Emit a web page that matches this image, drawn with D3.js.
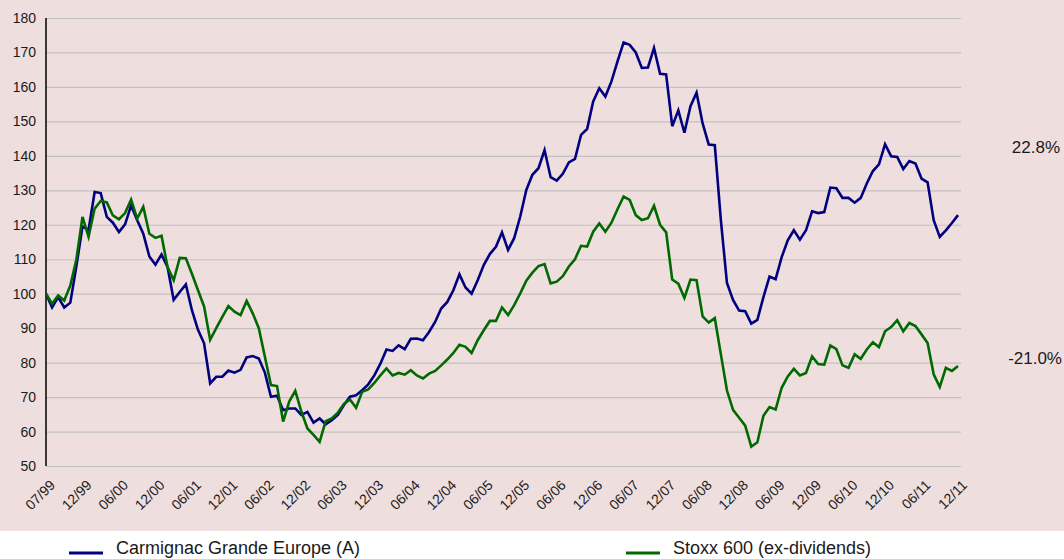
<!DOCTYPE html>
<html>
<head>
<meta charset="utf-8">
<script src="https://cdn.jsdelivr.net/npm/d3@7"></script>
<style>
  body { margin: 0; background: #ffffff; }
  svg { display: block; font-family: "Liberation Sans", Arial, sans-serif; }
</style>
</head>
<body>
<div id="canvas"></div>
<script>
var WIDTH = 1064, HEIGHT = 559;

// tick labels, one every 6 points
var tickLabels = ['07/99', '12/99', '06/00', '12/00', '06/01', '12/01', '06/02', '12/02', '06/03',
    '12/03', '06/04', '12/04', '06/05', '12/05', '06/06', '12/06', '06/07', '12/07', '06/08',
    '12/08', '06/09', '12/09', '06/10', '12/10', '06/11', '12/11'];

var seriesNames = ['Carmignac Grande Europe (A)', 'Stoxx 600 (ex-dividends)'];
var endLabels = ['22.8%', '-21.0%'];

// monthly values, base 100
var carmignac = [
    100, 96, 99, 96, 97.4, 108, 119.5, 118.5, 129.5, 129.2,
    122.3, 120.6, 117.9, 120.1, 125.6, 121.3, 117.4, 110.8, 108.4, 111.4,
    107.7, 98.2, 100.5, 102.7, 95.2, 89.5, 85.6, 74, 75.9, 75.9,
    77.7, 77.1, 77.9, 81.5, 81.9, 81.2, 77.1, 70.1, 70.4, 66.2,
    66.7, 66.7, 64.8, 65.7, 62.6, 63.8, 62.1, 63.3, 64.8, 67.7,
    70.1, 70.5, 72, 73.7, 76.3, 79.7, 83.8, 83.4, 85, 83.9,
    86.9, 87, 86.5, 88.9, 91.8, 95.7, 97.6, 101, 105.6, 101.8,
    100, 103.9, 108.3, 111.5, 113.6, 117.8, 112.7, 116.1, 122.4, 130.1,
    134.5, 136.4, 141.7, 133.8, 132.8, 134.8, 138.1, 139.1, 146.1, 147.8,
    155.8, 159.6, 157.2, 161.6, 167.4, 172.9, 172.2, 170, 165.5, 165.6,
    171.3, 163.8, 163.6, 148.6, 153.2, 146.7, 154.4, 158.3, 149.4, 143.3,
    143.1, 121.3, 103.1, 98.2, 95.1, 94.9, 91.3, 92.4, 99, 105,
    104.2, 110.6, 115.5, 118.4, 115.7, 118.4, 123.9, 123.4, 123.7, 130.8,
    130.6, 127.8, 127.8, 126.4, 127.8, 132, 135.6, 137.5, 143.4, 139.9,
    139.7, 136.2, 138.5, 137.8, 133.4, 132.3, 121.3, 116.5, 118.4, 120.5,
    122.8
];

var stoxx = [
    100, 97.1, 99.5, 98, 102.4, 110, 122.3, 116.5, 124.7, 126.9,
    126.5, 122.7, 121.6, 123.4, 127.3, 121.8, 125.2, 117.4, 116.2, 116.8,
    107.7, 103.9, 110.4, 110.3, 105.8, 101, 96.3, 86.6, 90, 93.3,
    96.4, 94.8, 93.8, 97.9, 94.3, 90, 81.7, 73.5, 73.2, 62.9,
    68.7, 71.8, 65.8, 60.9, 59, 57, 63, 63.8, 65.5, 68,
    69.3, 66.9, 71.5, 72.2, 74.1, 76.3, 78.3, 76.3, 77, 76.5,
    77.8, 76.3, 75.4, 76.8, 77.6, 79.2, 80.9, 82.8, 85.2, 84.6,
    82.8, 86.5, 89.4, 92.1, 92.1, 96, 93.8, 96.7, 100.1, 103.8,
    106.1, 108, 108.6, 103, 103.5, 105.1, 107.9, 110, 113.9, 113.7,
    118, 120.4, 118, 120.6, 124.5, 128.2, 127.2, 122.8, 121.4, 121.9,
    125.5, 120, 117.8, 104.1, 102.9, 98.8, 104.1, 103.9, 93.4, 91.6,
    92.9, 82.4, 71.9, 66.3, 64, 61.7, 55.6, 56.9, 64.6, 67.1,
    66.4, 72.7, 76, 78.2, 76.3, 77, 81.8, 79.6, 79.4, 85,
    83.9, 79.2, 78.5, 82.4, 81.1, 83.8, 85.9, 84.5, 89.1, 90.3,
    92.3, 89.1, 91.5, 90.6, 88.2, 85.7, 76.6, 72.9, 78.5, 77.6,
    79
];

var COLORS = ['#000080', '#006a00'];
var LEFT = 46, RIGHT = 958, TOP = 18, BOTTOM = 466;

var svg = d3.select('#canvas').append('svg')
    .attr('width', WIDTH)
    .attr('height', HEIGHT);

// pink plot background
svg.append('rect')
    .attr('x', 0).attr('y', 0)
    .attr('width', WIDTH).attr('height', 531)
    .attr('fill', '#efdede');

var x = d3.scaleLinear().domain([0, carmignac.length - 1]).range([LEFT, RIGHT]);
var y = d3.scaleLinear().domain([50, 180]).range([BOTTOM, TOP]);

// horizontal grid + y labels
var yAxis = d3.axisLeft(y).tickValues(d3.range(50, 181, 10))
    .tickSize(-(RIGHT + 3 - LEFT)).tickPadding(10);
var gy = svg.append('g').attr('transform', 'translate(' + LEFT + ',0)').call(yAxis);
gy.select('.domain').remove();
gy.selectAll('.tick line').attr('stroke', '#c4c0c0').attr('stroke-width', 1.2);
gy.selectAll('.tick text')
    .attr('fill', '#1a1a1a')
    .style('font-size', '14px')
    .attr('font-family', '"Liberation Sans", Arial, sans-serif');

// vertical axis line
svg.append('line')
    .attr('x1', LEFT).attr('x2', LEFT)
    .attr('y1', TOP).attr('y2', BOTTOM)
    .attr('stroke', '#000').attr('stroke-width', 1.5);

// x labels, rotated
var tickIdx = d3.range(0, carmignac.length, 6);
svg.append('g').selectAll('text')
    .data(tickIdx)
    .enter()
    .append('text')
    .attr('transform', function(d) { return 'translate(' + (x(d) + 10) + ',' + 486 + ') rotate(-45)'; })
    .attr('text-anchor', 'end')
    .attr('fill', '#1a1a1a')
    .style('font-size', '14px')
    .text(function(d, i) { return tickLabels[i]; });

// lines
var line = d3.line()
    .x(function(d, i) { return x(i); })
    .y(function(d) { return y(d); });

[carmignac, stoxx].forEach(function(s, k) {
    svg.append('path')
        .datum(s)
        .attr('d', line)
        .attr('fill', 'none')
        .attr('stroke', COLORS[k])
        .attr('stroke-width', 2.6)
        .attr('stroke-linejoin', 'miter');
});

// end percentages
svg.append('text').attr('x', 1060).attr('y', 153).attr('text-anchor', 'end')
    .style('font-size', '17px').attr('fill', '#1a1a1a').text(endLabels[0]);
svg.append('text').attr('x', 1062).attr('y', 364).attr('text-anchor', 'end')
    .style('font-size', '17px').attr('fill', '#1a1a1a').text(endLabels[1]);

// legend
var legendX = [69, 626];
seriesNames.forEach(function(name, k) {
    svg.append('line')
        .attr('x1', legendX[k]).attr('x2', legendX[k] + 34)
        .attr('y1', 553).attr('y2', 553)
        .attr('stroke', COLORS[k]).attr('stroke-width', 3);
    svg.append('text')
        .attr('x', legendX[k] + 47).attr('y', 554)
        .style('font-size', '18px')
        .attr('fill', '#1a1a1a')
        .text(name);
});
</script>
</body>
</html>
